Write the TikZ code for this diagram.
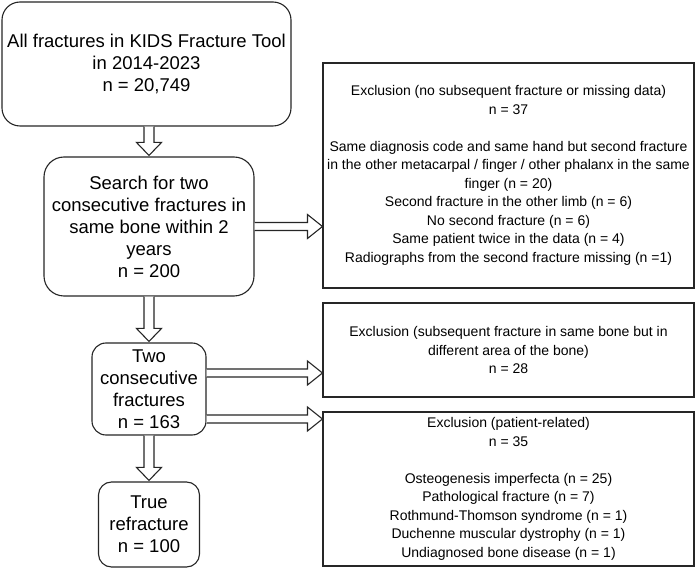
\documentclass[tikz,border=0pt]{standalone}
\usepackage{fontspec}
\setmainfont{Liberation Sans}
\usetikzlibrary{calc}
\tikzset{
  x=1pt, y=-1pt,
  linecol/.style={draw=black!85, line width=1.1pt},
  bigbox/.style={linecol, fill=white, rectangle, inner sep=0pt, align=center,
    font=\fontsize{18.5}{22}\selectfont},
  exbox/.style={linecol, fill=white, rectangle, inner sep=0pt, align=center,
    minimum width=371pt, font=\fontsize{14}{18.5}\selectfont},
  flexarrow/.style={linecol, fill=white, line join=miter}
}
\begin{document}
\begin{tikzpicture}
\useasboundingbox (0,0) rectangle (697,569);

% left column
\node[bigbox, rounded corners=18pt, minimum width=289pt, minimum height=124pt] (all) at (146.5,64)
  {All fractures in KIDS Fracture Tool\\in 2014-2023\\n = 20,749};
\node[bigbox, rounded corners=20pt, minimum width=210pt, minimum height=139pt] (search) at (149,226.5)
  {Search for two\\consecutive fractures in\\same bone within 2\\years\\n = 200};
\node[bigbox, rounded corners=14pt, minimum width=114pt, minimum height=92pt] (two) at (149,389)
  {Two\\consecutive\\fractures\\n = 163};
\node[bigbox, rounded corners=13pt, minimum width=101pt, minimum height=85pt] (true) at (149,524.5)
  {True\\refracture\\n = 100};

% exclusion boxes
\node[exbox, minimum height=225pt] (ex1) at (508.5,175.5)
  {Exclusion (no subsequent fracture or missing data)\\n = 37\\[18.5pt]
   Same diagnosis code and same hand but second fracture\\
   in the other metacarpal / finger / other phalanx in the same\\
   finger (n = 20)\\
   Second fracture in the other limb (n = 6)\\
   No second fracture (n = 6)\\
   Same patient twice in the data (n = 4)\\
   Radiographs from the second fracture missing (n =1)};
\node[exbox, minimum height=94pt] (ex2) at (508.5,350)
  {Exclusion (subsequent fracture in same bone but in\\different area of the bone)\\n = 28};
\node[exbox, minimum height=154pt] (ex3) at (508.5,489)
  {Exclusion (patient-related)\\n = 35\\[18.5pt]
   Osteogenesis imperfecta (n = 25)\\
   Pathological fracture (n = 7)\\
   Rothmund-Thomson syndrome (n = 1)\\
   Duchenne muscular dystrophy (n = 1)\\
   Undiagnosed bone disease (n = 1)};

% vertical block arrows
\foreach \a/\b in {all/search, search/two, two/true}{
  \draw[flexarrow]
    ($(\a.south -| \b.north)+(-5,0)$) -- ($(\b.north)+(-5,-14)$) --
    ($(\b.north)+(-12.5,-14)$) -- ($(\b.north)+(0,-1)$) --
    ($(\b.north)+(12.5,-14)$) -- ($(\b.north)+(5,-14)$) --
    ($(\a.south -| \b.north)+(5,0)$);
}

% horizontal block arrows
\coordinate (s1) at (search.east);
\coordinate (s2) at ($(two.east)+(0,-16)$);
\coordinate (s3) at ($(two.east)+(0,30)$);
\foreach \s/\t in {s1/ex1, s2/ex2, s3/ex3}{
  \draw[flexarrow]
    ($(\s)+(0,-4)$) -- ($(\t.west |- \s)+(-15,-4)$) --
    ($(\t.west |- \s)+(-15,-12)$) -- (\t.west |- \s) --
    ($(\t.west |- \s)+(-15,12)$) -- ($(\t.west |- \s)+(-15,4)$) --
    ($(\s)+(0,4)$);
}
\end{tikzpicture}
\end{document}
